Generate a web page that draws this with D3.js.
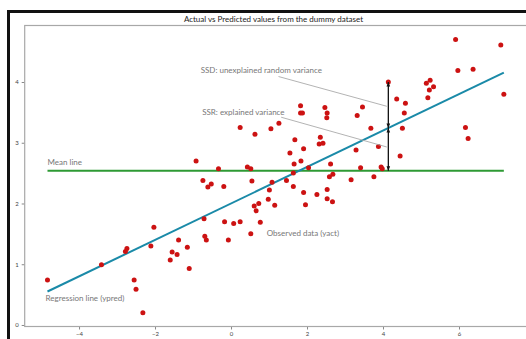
<!DOCTYPE html>
<html>
<head>
<meta charset="utf-8">
<script src="https://cdn.jsdelivr.net/npm/d3@7"></script>
<style>
  html, body { margin: 0; padding: 0; background: #fff; }
  svg { display: block; font-family: Lato, "Open Sans", sans-serif; }
</style>
</head>
<body>
<div id="chart"></div>
<script>
const xVals = [
  -4.83, -3.41, -2.74, -2.78, -2.55, -2.50, -2.32, -2.03, -2.11, -1.55,
  -1.60, -1.42, -1.38, -1.15, -1.10, -0.71, -0.69, -0.65, -0.17, -0.07,
   0.07,  0.24,  0.52,  0.77,  0.61,  0.73,  0.66, -0.92, -0.33,  0.43,
   0.52, -0.74, -0.61, -0.52, -0.19,  0.55,  1.08,  1.01,  0.98,  1.15,
   0.24,  0.63,  1.05,  1.26,  1.83,  1.83,  1.88,  2.47,  2.53,  2.52,
   3.46,  3.32,  3.68,  1.68,  2.35,  2.32,  2.42,  1.91,  1.55,  3.88,
   3.29,  1.66,  1.84,  2.62,  2.04,  3.41,  3.95,  3.98,  1.46,  1.64,
   2.59,  2.68,  3.16,  3.76,  1.64,  1.91,  2.26,  2.53,  2.53,  2.67,
   1.96,  5.91,  7.10,  5.97,  6.37,  7.18,  6.17,  6.24,  4.14,  4.36,
   4.59,  4.56,  4.51,  4.45,  5.14,  5.24,  5.33,  5.22,  5.18
];
const yVals = [
  0.74, 0.99, 1.26, 1.21, 0.74, 0.59, 0.20, 1.61, 1.30, 1.20,
  1.07, 1.16, 1.40, 1.28, 0.93, 1.75, 1.46, 1.40, 1.70, 1.40,
  1.67, 1.70, 1.50, 1.69, 1.96, 2.00, 1.88, 2.70, 2.57, 2.60,
  2.57, 2.38, 2.27, 2.32, 2.28, 2.37, 2.35, 2.22, 2.07, 1.97,
  3.25, 3.14, 3.23, 3.32, 3.61, 3.49, 3.49, 3.58, 3.49, 3.41,
  3.59, 3.45, 3.24, 3.05, 3.09, 2.98, 2.99, 2.90, 2.83, 2.94,
  2.88, 2.65, 2.70, 2.65, 2.59, 2.59, 2.60, 2.57, 2.38, 2.50,
  2.44, 2.48, 2.39, 2.44, 2.28, 2.18, 2.15, 2.23, 2.08, 2.03,
  1.98, 4.70, 4.61, 4.19, 4.21, 3.80, 3.25, 3.07, 4.00, 3.72,
  3.65, 3.49, 3.24, 2.78, 3.98, 4.03, 3.92, 3.87, 3.74
];

// fitted line ypred = a + b * X and mean of yact
const intercept = 2.0;
const slope = 0.3;
const yMean = 2.54;

const xTicks = [-4, -2, 0, 2, 4, 6];
const yTicks = [0, 1, 2, 3, 4];

const title = "Actual vs Predicted values from the dummy dataset";

// the point whose deviation is drawn with arrows
const markIndex = 88;

const W = 526, H = 339;
const svg = d3.select("#chart").append("svg")
  .attr("width", W).attr("height", H);

// screenshot frame
svg.append("rect").attr("x", 0).attr("y", 0).attr("width", W).attr("height", H).attr("fill", "#fff");
svg.append("rect")
  .attr("x", 8.5).attr("y", 11.5).attr("width", W + 20).attr("height", H + 20)
  .attr("fill", "#fff").attr("stroke", "#111").attr("stroke-width", 3);

const plot = { left: 24.7, right: 527.4, top: 25.5, bottom: 326.5 };

const x = d3.scaleLinear().domain([-5.43, 7.8]).range([plot.left, plot.right]);
const y = d3.scaleLinear().domain([-0.025, 4.93]).range([plot.bottom, plot.top]);

svg.append("text")
  .attr("x", 273.5).attr("y", 21.5)
  .attr("text-anchor", "middle")
  .attr("font-size", 8)
  .attr("fill", "#222")
  .text(title);

// axes
const xAxis = svg.append("g")
  .attr("transform", "translate(0," + plot.bottom + ")")
  .call(d3.axisBottom(x).tickValues(xTicks).tickSize(3).tickPadding(2).tickFormat(d3.format("d")));
const yAxis = svg.append("g")
  .attr("transform", "translate(" + plot.left + ",0)")
  .call(d3.axisLeft(y).tickValues(yTicks).tickSize(3).tickPadding(3).tickFormat(d3.format("d")));
[xAxis, yAxis].forEach(g => {
  g.select(".domain").remove();
  g.selectAll("line").attr("stroke", "#888");
  g.selectAll("text").attr("font-size", 6).attr("fill", "#444").attr("font-family", "Lato, sans-serif");
});

svg.append("rect")
  .attr("x", plot.left).attr("y", plot.top)
  .attr("width", plot.right - plot.left).attr("height", plot.bottom - plot.top)
  .attr("fill", "none").attr("stroke", "#a8a8a8").attr("stroke-width", 1.2);

// mean line
const xMin = d3.min(xVals), xMax = d3.max(xVals);
svg.append("line")
  .attr("x1", x(xMin)).attr("x2", x(xMax))
  .attr("y1", y(yMean)).attr("y2", y(yMean))
  .attr("stroke", "#2e9a34").attr("stroke-width", 2);

// regression line
svg.append("line")
  .attr("x1", x(xMin)).attr("y1", y(intercept + slope * xMin))
  .attr("x2", x(xMax)).attr("y2", y(intercept + slope * xMax))
  .attr("stroke", "#1a8aa8").attr("stroke-width", 2);

// points
svg.selectAll("circle.pt")
  .data(d3.range(xVals.length))
  .enter().append("circle")
  .attr("class", "pt")
  .attr("cx", i => x(xVals[i]))
  .attr("cy", i => y(yVals[i]))
  .attr("r", 2.5)
  .attr("fill", "#cc1212");

// arrows: mean -> ypred -> yact
const defs = svg.append("defs");
defs.append("marker")
  .attr("id", "ah").attr("viewBox", "0 0 10 10")
  .attr("refX", 10).attr("refY", 5)
  .attr("markerWidth", 3.5).attr("markerHeight", 3.5)
  .attr("orient", "auto-start-reverse")
  .append("path").attr("d", "M0,1 L10,5 L0,9 Z").attr("fill", "#111");

const mx = xVals[markIndex];
const py = intercept + slope * mx;
[[yMean, py], [py, yVals[markIndex]]].forEach(([a, b]) => {
  svg.append("line")
    .attr("x1", x(mx)).attr("x2", x(mx))
    .attr("y1", y(a)).attr("y2", y(b))
    .attr("stroke", "#111").attr("stroke-width", 1.3)
    .attr("marker-start", "url(#ah)").attr("marker-end", "url(#ah)");
});

// annotation pointer lines
const pointers = [
  [[1.25, 4.09], [4.10, 3.60]],
  [[1.32, 3.42], [4.10, 2.93]]
];
pointers.forEach(p => {
  svg.append("line")
    .attr("x1", x(p[0][0])).attr("y1", y(p[0][1]))
    .attr("x2", x(p[1][0])).attr("y2", y(p[1][1]))
    .attr("stroke", "#aaa").attr("stroke-width", 0.9);
});

// annotation texts
const notes = [
  { t: "SSD: unexplained random variance", x: -0.80, y: 4.15 },
  { t: "SSR: explained variance", x: -0.76, y: 3.46 },
  { t: "Mean line", x: -4.83, y: 2.63 },
  { t: "Observed data (yact)", x: 0.94, y: 1.47 },
  { t: "Regression line (ypred)", x: -4.88, y: 0.395 }
];
svg.selectAll("text.note")
  .data(notes)
  .enter().append("text")
  .attr("class", "note")
  .attr("x", d => x(d.x)).attr("y", d => y(d.y))
  .attr("font-size", 8).attr("fill", "#777")
  .text(d => d.t);
</script>
</body>
</html>
